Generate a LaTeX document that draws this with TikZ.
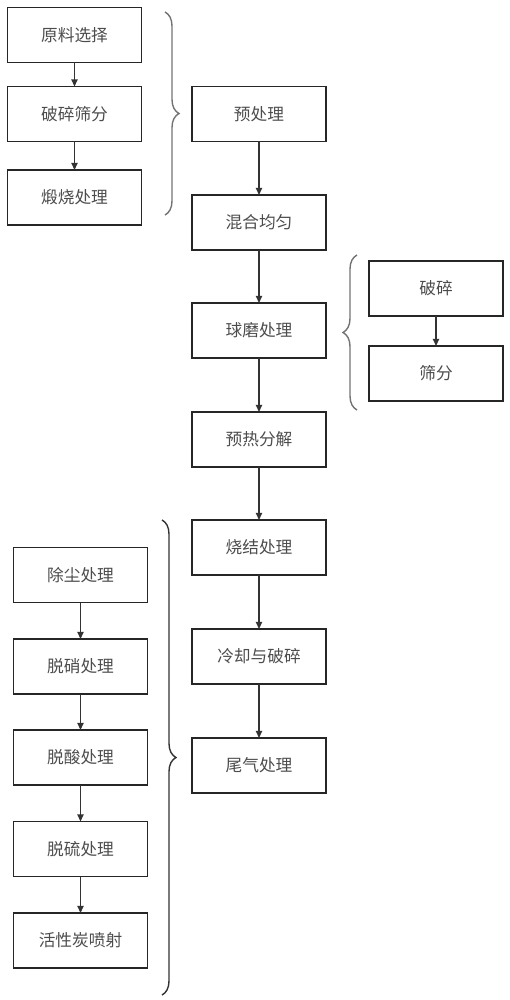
\documentclass[tikz,border=0pt]{standalone}
\usepackage{fontspec}
\setmainfont{Noto Sans CJK SC}
\usetikzlibrary{arrows.meta,decorations.pathreplacing}
\begin{document}
\begin{tikzpicture}[x=0.02cm,y=-0.02cm,
        box/.style={draw=black!85,line width=0.9pt,minimum width=2.68cm,minimum height=1.1cm,
            inner sep=0pt,outer sep=0pt,text=black!70,font=\fontsize{9.5}{11}\selectfont},
        flow/.style={draw=black!80,line width=0.8pt,-{Triangle[length=4pt,width=3.5pt]}},
        bracket/.style={draw=black!55,line width=0.8pt,decorate,decoration={brace,amplitude=0.28cm}}]
                \useasboundingbox (0,0) rectangle (510,1000);
                \node[box] (raw) at (74.5,35) {原料选择};
                \node[box] (crush) at (74.5,114) {破碎筛分};
                \node[box] (calcine) at (74.5,197.5) {煅烧处理};
                \node[box] (pre) at (259,114) {预处理};
                \node[box] (mix) at (259,222.5) {混合均匀};
                \node[box] (mill) at (259,330.5) {球磨处理};
                \node[box] (heat) at (259,439.5) {预热分解};
                \node[box] (sinter) at (259,547.5) {烧结处理};
                \node[box] (cool) at (259,656.5) {冷却与破碎};
                \node[box] (gas) at (259,765.5) {尾气处理};
                \node[box] (break) at (436,288.5) {破碎};
                \node[box] (sieve) at (436,373.5) {筛分};
                \node[box] (dust) at (80.5,575) {除尘处理};
                \node[box] (denox) at (80.5,666.5) {脱硝处理};
                \node[box] (deacid) at (80.5,757.5) {脱酸处理};
                \node[box] (desulf) at (80.5,849) {脱硫处理};
                \node[box] (carbon) at (80.5,940.5) {活性炭喷射};
                \draw[flow] (raw) -- (crush);
                \draw[flow] (crush) -- (calcine);
                \draw[flow] (pre) -- (mix);
                \draw[flow] (mix) -- (mill);
                \draw[flow] (mill) -- (heat);
                \draw[flow] (heat) -- (sinter);
                \draw[flow] (sinter) -- (cool);
                \draw[flow] (cool) -- (gas);
                \draw[flow] (break) -- (sieve);
                \draw[flow] (dust) -- (denox);
                \draw[flow] (denox) -- (deacid);
                \draw[flow] (deacid) -- (desulf);
                \draw[flow] (desulf) -- (carbon);
                \draw[bracket] (165,12) -- (165,215);
                \draw[bracket] (357,410) -- (357,255);
                \draw[bracket,draw=black!80] (162,520) -- (162,995);
            \end{tikzpicture}
\end{document}
